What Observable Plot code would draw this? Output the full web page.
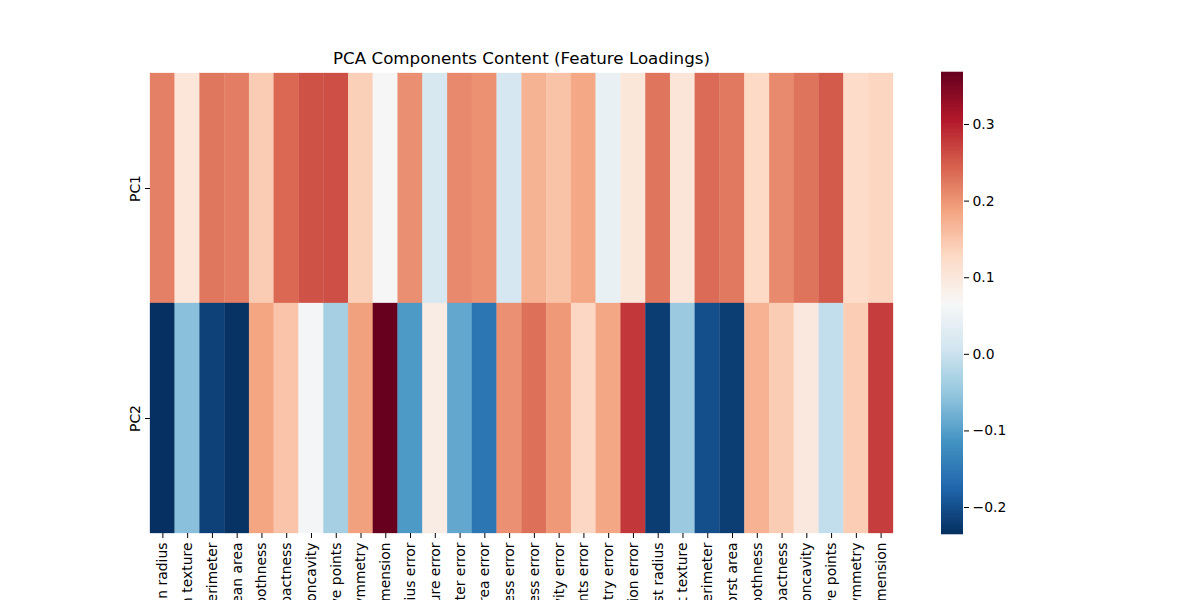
<!DOCTYPE html>
<html>
<head>
<meta charset="utf-8">
<script src="https://cdn.jsdelivr.net/npm/d3@7"></script>
<script src="https://cdn.jsdelivr.net/npm/@observablehq/plot@0.6"></script>
<style>
  html, body { margin: 0; padding: 0; background: white; }
  #wrap { position: relative; width: 1200px; height: 600px; overflow: hidden; font-family: "DejaVu Sans", sans-serif; }
  #title { position: absolute; left: 150px; width: 743px; top: 48px; text-align: center; font-size: 16.7px; color: #000; }
  #main { position: absolute; left: 0; top: 0; }
  #cbar { position: absolute; left: 900px; top: 0; }
</style>
</head>
<body>
<div id="wrap">
  <div id="main"></div>
  <div id="cbar"></div>
  <div id="title">PCA Components Content (Feature Loadings)</div>
</div>
<script>
const features = [
  "mean radius","mean texture","mean perimeter","mean area","mean smoothness",
  "mean compactness","mean concavity","mean concave points","mean symmetry","mean fractal dimension",
  "radius error","texture error","perimeter error","area error","smoothness error",
  "compactness error","concavity error","concave points error","symmetry error","fractal dimension error",
  "worst radius","worst texture","worst perimeter","worst area","worst smoothness",
  "worst compactness","worst concavity","worst concave points","worst symmetry","worst fractal dimension"
];
const components = ["PC1", "PC2"];
const pc1 = [0.2189,0.1037,0.2275,0.2210,0.1426,0.2393,0.2584,0.2609,0.1382,0.0644,
             0.2060,0.0174,0.2113,0.2029,0.0145,0.1704,0.1536,0.1834,0.0425,0.1026,
             0.2280,0.1045,0.2366,0.2249,0.1280,0.2101,0.2288,0.2509,0.1229,0.1318];
const pc2 = [-0.2339,-0.0597,-0.2152,-0.2311,0.1861,0.1519,0.0602,-0.0348,0.1903,0.3666,
             -0.1056,0.0900,-0.0895,-0.1523,0.2044,0.2327,0.1972,0.1303,0.1838,0.2801,
             -0.2199,-0.0455,-0.1999,-0.2194,0.1723,0.1436,0.0980,-0.0083,0.1419,0.2753];
const colorTicks = [-0.2, -0.1, 0.0, 0.1, 0.2, 0.3];

const data = [];
features.forEach((f, i) => {
  data.push({feature: f, pc: "PC1", value: pc1[i]});
  data.push({feature: f, pc: "PC2", value: pc2[i]});
});
const all = pc1.concat(pc2);
const vmin = d3.min(all), vmax = d3.max(all);

// matplotlib RdBu_r (linear segments of ColorBrewer RdBu, reversed)
const rdbu = ["#67001f","#b2182b","#d6604d","#f4a582","#fddbc7","#f7f7f7","#d1e5f0","#92c5de","#4393c3","#2166ac","#053061"].reverse();
const interp = d3.piecewise(d3.interpolateRgb, rdbu);
const colorOpts = {type: "linear", domain: [vmin, vmax], interpolate: () => interp};

const main = Plot.plot({
  width: 1200, height: 600,
  marginLeft: 150, marginRight: 307, marginTop: 73, marginBottom: 67,
  style: {fontFamily: "DejaVu Sans, sans-serif", fontSize: "13.9px", color: "#000", background: "transparent"},
  x: {domain: features, padding: 0, round: false},
  y: {domain: components, padding: 0, round: false},
  color: colorOpts,
  marks: [
    Plot.cell(data, {x: "feature", y: "pc", fill: "value", stroke: "value", strokeWidth: 0.3}),
    Plot.axisX({tickRotate: -90, tickSize: 5, tickPadding: 4, label: null, fontSize: 13.9}),
    Plot.axisY({tickRotate: -90, tickSize: 5, tickPadding: 6, label: null, fontSize: 13.9, textAnchor: "middle", lineAnchor: "bottom"})
  ]
});
document.getElementById("main").appendChild(main);

const steps = d3.range(256).map(i => vmin + (vmax - vmin) * i / 255);
const dv = (vmax - vmin) / 255;
const cbar = Plot.plot({
  width: 200, height: 600,
  marginLeft: 41, marginRight: 137, marginTop: 73, marginBottom: 67,
  style: {fontFamily: "DejaVu Sans, sans-serif", fontSize: "13.9px", color: "#000", background: "transparent"},
  x: {domain: [0, 1], axis: null},
  y: {domain: [vmin, vmax]},
  color: colorOpts,
  marks: [
    Plot.rect(steps, {x1: 0, x2: 1, y1: d => d - dv / 2 - 0.0005, y2: d => d + dv / 2 + 0.0005, fill: d => d}),
    Plot.axisY({anchor: "right", ticks: colorTicks, tickFormat: d3.format(".1f"), tickSize: 5, tickPadding: 4, label: null, fontSize: 13.9})
  ]
});
document.getElementById("cbar").appendChild(cbar);
</script>
</body>
</html>
